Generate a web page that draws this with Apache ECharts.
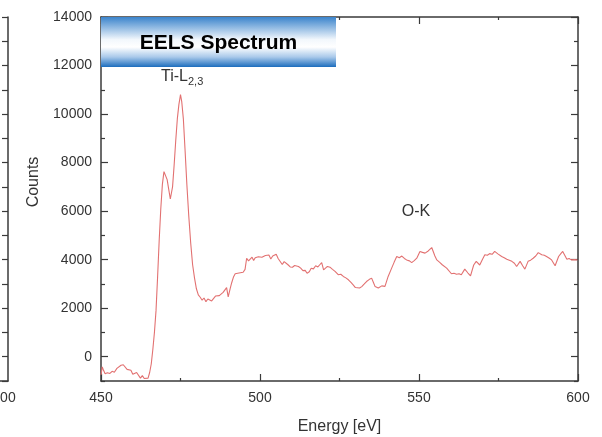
<!DOCTYPE html>
<html lang="en">
<head>
<meta charset="utf-8">
<title>EELS Spectrum</title>
<script src="https://cdn.jsdelivr.net/npm/echarts@6.0.0/dist/echarts.min.js"></script>
<style>
  html, body { margin: 0; padding: 0; background: #fff; }
  #main { width: 602px; height: 437px; }
</style>
</head>
<body>
<div id="main"></div>
<script>
// energy loss (eV) and counts
var energy = [
  450.0, 450.4, 450.8, 451.3, 452.0, 452.8, 453.5, 454.2, 455.0, 455.6,
  456.3, 457.0, 457.6, 458.2, 458.8, 459.4, 460.0, 460.6, 461.2, 461.8,
  462.4, 463.0, 463.6, 464.2, 464.8, 465.3, 465.8, 466.3, 466.8, 467.3,
  467.8, 468.3, 468.8, 469.3, 469.8, 470.3, 470.8, 471.3, 471.8, 472.1,
  472.5, 473.0, 473.5, 474.0, 474.5, 475.0, 475.4, 475.9, 476.4, 477.0,
  477.6, 478.2, 478.8, 479.4, 480.0, 480.6, 481.2, 481.8, 482.4, 483.0,
  483.6, 484.2, 484.8, 485.4, 486.0, 486.6, 487.2, 487.8, 488.4, 489.0,
  489.5, 490.0, 490.6, 491.1, 491.7, 492.2, 492.8, 493.4, 494.0, 494.7,
  495.3, 495.8, 496.4, 497.0, 497.5, 498.0, 498.5, 499.0, 499.5, 500.0,
  500.6, 501.2, 501.7, 502.3, 502.8, 503.4, 504.0, 504.6, 505.1, 505.7,
  506.3, 507.0, 507.6, 508.2, 508.8, 509.5, 510.2, 510.9, 511.5, 512.1,
  512.8, 513.5, 514.2, 514.8, 515.5, 516.1, 516.8, 517.5, 518.2, 518.8,
  519.4, 520.0, 520.6, 521.2, 522.0, 522.8, 523.6, 524.6, 525.4, 526.2,
  527.0, 527.8, 528.6, 529.3, 530.0, 530.6, 531.3, 532.0, 532.8, 533.5,
  534.3, 535.1, 535.7, 536.2, 537.2, 538.3, 539.3, 540.3, 541.4, 542.2,
  543.0, 543.8, 544.6, 545.4, 546.1, 547.0, 547.7, 548.5, 549.3, 550.3,
  551.1, 551.9, 552.9, 553.5, 554.0, 555.0, 555.6, 556.6, 557.3, 558.7,
  559.1, 560.2, 561.0, 561.8, 562.6, 563.3, 564.4, 565.4, 566.2, 567.2,
  568.0, 569.1, 569.9, 570.7, 571.5, 572.2, 573.0, 573.8, 574.8, 576.0,
  576.8, 577.6, 578.4, 579.2, 580.0, 580.7, 581.8, 582.6, 583.3, 584.3,
  585.1, 585.9, 586.7, 587.5, 588.6, 589.4, 590.1, 591.0, 591.7, 592.8,
  593.9, 594.6, 595.2, 596.5, 597.2, 597.9, 598.8, 599.8
];
var counts = [
  -750, -420, -560, -700, -660, -690, -600, -640, -480, -520,
  -350, -330, -380, -520, -600, -560, -720, -800, -650, -720,
  -880, -780, -900, -970, -880, -650, -300, 300, 1000, 1900,
  3300, 4800, 6100, 7100, 7630, 7550, 7300, 6900, 6500, 6460,
  7000, 7900, 8900, 9800, 10400, 10800, 10500, 9800, 8600, 7100,
  5800, 4700, 3800, 3250, 2800, 2550, 2450, 2330, 2420, 2270,
  2380, 2450, 2300, 2380, 2500, 2420, 2520, 2450, 2650, 2580,
  2850, 2470, 2800, 3050, 3300, 3420, 3350, 3450, 3420, 3480,
  3600, 4060, 3950, 4010, 4100, 3970, 4080, 4050, 4120, 4200,
  4100, 4060, 4170, 4120, 4190, 4030, 4150, 4080, 4220, 4050,
  4100, 3800, 3920, 3850, 3790, 3700, 3690, 3760, 3800, 3720,
  3650, 3550, 3560, 3440, 3500, 3650, 3620, 3750, 3700, 3790,
  3880, 3580, 3640, 3720, 3690, 3600, 3520, 3380, 3400, 3310,
  3250, 3170, 3060, 2960, 2850, 2780, 2830, 2890, 3000, 3100,
  3180, 3240, 3050, 2890, 2830, 2920, 2900, 3310, 3650, 3900,
  4130, 4080, 4150, 4050, 3990, 3950, 3880, 3960, 4060, 4340,
  4300, 4270, 4360, 4300, 4500, 4150, 3990, 3880, 3790, 3650,
  3610, 3420, 3440, 3400, 3420, 3380, 3610, 3450, 3330, 3780,
  3930, 3780, 4000, 4200, 4180, 4250, 4220, 4340, 4240, 4130,
  4080, 4020, 3980, 3930, 3850, 3720, 3930, 3750, 3610, 3930,
  3980, 4060, 4150, 4290, 4200, 4180, 4130, 4060, 3990, 3750,
  4130, 4250, 4340, 4020, 4050, 3990, 4000, 3990
];
var yMajorTicks = [0, 2000, 4000, 6000, 8000, 10000, 12000, 14000];
var yMinorTicks = [-1000, 1000, 3000, 5000, 7000, 9000, 11000, 13000];
var xTicks = [450, 500, 550, 600];

var FONT = 'Liberation Sans, Arial, sans-serif';
var AXIS_COLOR = '#3a3a3a';

var chart = echarts.init(document.getElementById('main'));

var spectrum = energy.map(function (e, i) { return [e, counts[i]]; });

function plain(v) { return String(v); }

function yAxisPart(pos, values, len, withLine, withLabels) {
    return {
        type: 'value', gridIndex: 0, position: pos,
        min: -1000, max: 14000,
        axisLine: { show: withLine, onZero: false, lineStyle: { color: AXIS_COLOR, width: 1.5 } },
        axisTick: { show: true, inside: true, length: len, customValues: values,
                    lineStyle: { color: AXIS_COLOR, width: 1.2 } },
        axisLabel: withLabels
            ? { show: true, customValues: values, formatter: plain, fontSize: 14, color: '#333',
                fontFamily: FONT, margin: 9 }
            : { show: false },
        splitLine: { show: false }
    };
}

var option = {
    animation: false,
    backgroundColor: '#fff',
    grid: [
        { left: 101, right: 24, top: 17, bottom: 56, containLabel: false, outerBoundsMode: 'none' },
        // edge of the neighbouring panel on the far left
        { left: -300, right: 594, top: 17, bottom: 56, containLabel: false, outerBoundsMode: 'none' }
    ],
    xAxis: [
        {
            type: 'value', gridIndex: 0, position: 'bottom',
            min: 450, max: 600, interval: 50,
            name: 'Energy [eV]', nameLocation: 'middle', nameGap: 38,
            nameTextStyle: { fontSize: 16, color: '#333', fontFamily: FONT },
            axisLine: { onZero: false, lineStyle: { color: AXIS_COLOR, width: 1.5 } },
            axisTick: { inside: true, length: 7, customValues: xTicks, lineStyle: { color: AXIS_COLOR, width: 1.2 } },
            minorTick: { show: true, splitNumber: 2, length: 3, lineStyle: { color: AXIS_COLOR, width: 1.2 } },
            axisLabel: { formatter: plain, fontSize: 14, color: '#333', fontFamily: FONT, margin: 10 },
            splitLine: { show: false }
        },
        {
            type: 'value', gridIndex: 0, position: 'top',
            min: 450, max: 600, interval: 50,
            axisLine: { onZero: false, lineStyle: { color: AXIS_COLOR, width: 1.5 } },
            axisTick: { inside: true, length: 7, lineStyle: { color: AXIS_COLOR, width: 1.2 } },
            minorTick: { show: true, splitNumber: 2, length: 3, lineStyle: { color: AXIS_COLOR, width: 1.2 } },
            axisLabel: { show: false },
            splitLine: { show: false }
        },
        {
            type: 'value', gridIndex: 1, position: 'bottom',
            min: 450, max: 600, interval: 50,
            axisLine: { onZero: false, lineStyle: { color: AXIS_COLOR, width: 1.5 } },
            axisTick: { show: false },
            axisLabel: { customValues: [600], formatter: plain, fontSize: 14, color: '#333', fontFamily: FONT,
                         margin: 10, padding: [0, 8, 0, 0] },
            splitLine: { show: false }
        }
    ],
    yAxis: [
        yAxisPart('left', yMajorTicks, 7, true, true),
        yAxisPart('left', yMinorTicks, 4, false, false),
        yAxisPart('right', yMajorTicks, 7, true, false),
        yAxisPart('right', yMinorTicks, 4, false, false),
        {
            type: 'value', gridIndex: 1, position: 'right',
            min: -1000, max: 14000, interval: 1000,
            axisLine: { show: true, onZero: false, lineStyle: { color: AXIS_COLOR, width: 1.5 } },
            axisTick: { inside: true, length: 6, lineStyle: { color: AXIS_COLOR, width: 1.2 } },
            axisLabel: { show: false },
            splitLine: { show: false }
        }
    ],
    series: [{
        type: 'line',
        xAxisIndex: 0,
        yAxisIndex: 0,
        data: spectrum,
        showSymbol: false,
        clip: true,
        lineStyle: { color: '#e27171', width: 1.1 }
    }],
    graphic: [
        {
            type: 'rect', z: 100,
            shape: { x: 101, y: 17, width: 235, height: 50 },
            style: {
                fill: new echarts.graphic.LinearGradient(0, 0, 0, 1, [
                    { offset: 0, color: '#3b84cc' },
                    { offset: 0.45, color: '#f2f7fc' },
                    { offset: 0.6, color: '#ffffff' },
                    { offset: 0.8, color: '#a9c9ea' },
                    { offset: 1, color: '#1c6dbd' }
                ])
            }
        },
        {
            type: 'text', z: 101, x: 218.5, y: 43,
            style: { text: 'EELS Spectrum', font: 'bold 21px ' + FONT, fill: '#000',
                     align: 'center', verticalAlign: 'middle' }
        },
        {
            type: 'text', z: 101, x: 161, y: 77,
            style: {
                text: '{a|Ti-L}{b|2,3}',
                verticalAlign: 'middle',
                rich: {
                    a: { fontSize: 16, fontFamily: FONT, fill: '#333', color: '#333' },
                    b: { fontSize: 11, fontFamily: FONT, fill: '#333', color: '#333', padding: [10, 0, 0, 0] }
                }
            }
        },
        {
            type: 'text', z: 101, x: 416, y: 212,
            style: { text: 'O-K', font: '16px ' + FONT, fill: '#333', align: 'center', verticalAlign: 'middle' }
        },
        {
            type: 'text', z: 101, x: 34, y: 182, rotation: Math.PI / 2,
            style: { text: 'Counts', font: '16px ' + FONT, fill: '#333', align: 'center', verticalAlign: 'middle' }
        }
    ]
};

chart.setOption(option);
</script>
</body>
</html>
